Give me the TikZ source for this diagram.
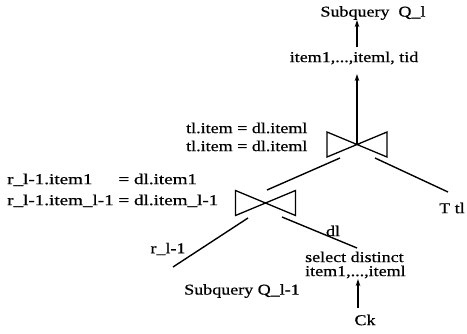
\documentclass[tikz,border=0pt]{standalone}
\usepackage{fontspec}
\setmainfont{Liberation Serif}[FakeStretch=1.2,FakeBold=0.6]
\usetikzlibrary{arrows.meta}
\tikzset{
  lbl/.style={inner sep=0pt, font=\fontsize{15}{18}\selectfont},
  arr/.style={-{Stealth[length=7pt,width=4.5pt]}, line width=1.1pt},
  edge/.style={line width=1.4pt},
  bowtie/.pic={\draw[line width=1.3pt, line join=miter] (-30,-12.5) -- (30,12.5) -- (30,-12.5) -- (-30,12.5) -- cycle;}
}
\begin{document}
\begin{tikzpicture}[x=1pt,y=-1pt]
\useasboundingbox (0,0) rectangle (467,333);
% texts
\node[lbl] (q) at (373,13) {Subquery\ \ Q\_l};
\node[lbl] (items) at (354,58) {item1,...,iteml, tid};
\node[lbl, anchor=west, align=left] (cond1) at (186,137) {tl.item = dl.iteml\\tl.item = dl.iteml};
\node[lbl, anchor=west] (cond2) at (7,191) {\scalebox{1.06}[1]{\begin{tabular}{@{}l@{ }l@{}}r\_l-1.item1 & = dl.item1\\[3pt] r\_l-1.item\_l-1 & = dl.item\_l-1\end{tabular}}};
\node[lbl] (ttl) at (452,208) {T tl};
\node[lbl] (dl) at (333,231) {dl};
\node[lbl] (r) at (168,249) {r\_l-1};
\node[lbl, anchor=west, align=left] (sel) at (305,265) {select distinct\\[-4pt]item1,...,iteml};
\node[lbl] (sq) at (242,291) {Subquery Q\_l-1};
\node[lbl] (ck) at (365,320) {Ck};
% joins
\coordinate (j1) at (357,144.5);
\coordinate (j2) at (265.5,203);
\pic at (j1) {bowtie};
\pic at (j2) {bowtie};
% arrows
\coordinate (ax) at (357,0);
\coordinate (t2) at (357,74);
\coordinate (t3a) at (358,308);
\coordinate (t3b) at (358,279);
\draw[arr] ([yshift=4pt]items.north -| ax) -- (q.south -| ax);
\draw[arr] (j1) -- (t2);
\draw[arr] (t3a) -- (t3b);
% edges
\coordinate (a1) at (267,190); \coordinate (a2) at (340,158);
\coordinate (b1) at (375,158); \coordinate (b2) at (448,192);
\coordinate (c1) at (248,218); \coordinate (c2) at (173,267);
\coordinate (d1) at (282,217); \coordinate (d2) at (357,248);
\draw[edge] (a1) -- (a2);
\draw[edge] (b1) -- (b2);
\draw[edge] (c1) -- (c2);
\draw[edge] (d1) -- (d2);
\end{tikzpicture}
\end{document}
